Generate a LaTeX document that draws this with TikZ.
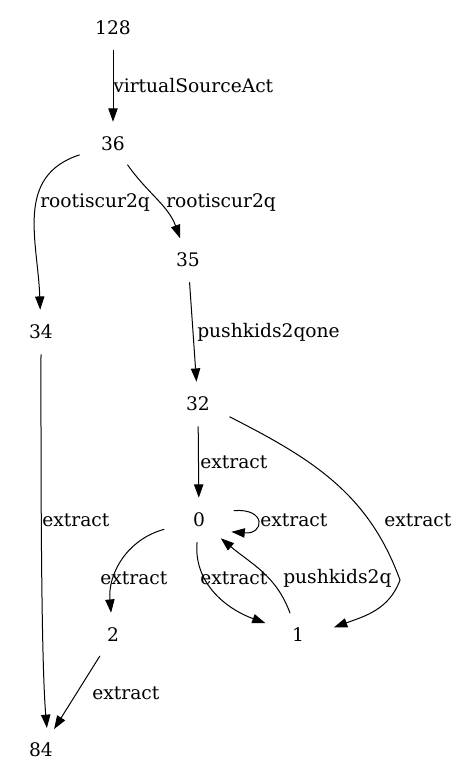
\documentclass[tikz,border=0pt]{standalone}
\usepackage{fontspec}
\setmainfont{DejaVu Serif}
\usetikzlibrary{arrows.meta}
\usetikzlibrary{shapes.geometric}

\begin{document}
\begin{tikzpicture}[x=0.75pt, y=-0.75pt,
    state/.style={ellipse, inner sep=0pt, minimum width=57pt, minimum height=33pt, font=\fontsize{14}{16}\selectfont},
    lbl/.style={anchor=west, inner sep=0pt, font=\fontsize{14}{16}\selectfont},
    edge/.style={-{Triangle[length=10pt, width=7pt]}, line width=0.75pt}]
      \useasboundingbox (0,0) rectangle (460,783);

      \node[state] (n128) at (113,28) {128};
      \node[state] (n36) at (113,144) {36};
      \node[state] (n35) at (188,260) {35};
      \node[state] (n34) at (41,332) {34};
      \node[state] (n32) at (198,404) {32};
      \node[state] (n0) at (199,520) {0};
      \node[state] (n2) at (113,635) {2};
      \node[state] (n1) at (298,635) {1};
      \node[state] (n84) at (41,750) {84};
      \coordinate (k32) at (400,580);

      \draw[edge] (n128) -- (n36);
      \draw[edge] (n36) to[out=198,in=92,looseness=1.1] (n34);
      \draw[edge] (n36) to[out=-55,in=110] (n35);
      \draw[edge] (n35) -- (n32);
      \draw[edge] (n34) to[out=-90,in=95,looseness=0.5] (n84.75);
      \draw[edge] (n32) -- (n0);
      \draw[edge] (n32.-22) to[out=-27,in=110] (k32) to[out=-110,in=20] (n1.12);
      \draw[edge] (n0.15) to[out=5,in=-5,looseness=4] (n0.-20);
      \draw[edge] (n0) to[out=195,in=95] (n2);
      \draw[edge] (n0) to[out=-95,in=160] (n1);
      \draw[edge] (n1) to[out=110,in=-40] (n0);
      \draw[edge] (n2) -- (n84);

      \node[lbl] (l128) at (113,86) {virtualSourceAct};
      \node[lbl] (l36a) at (40,203) {rootiscur2q};
      \node[lbl] (l36b) at (166,203) {rootiscur2q};
      \node[lbl] (l35) at (197,332) {pushkids2qone};
      \node[lbl] (l34) at (42,520) {extract};
      \node[lbl] (l32a) at (200,462) {extract};
      \node[lbl] (l32b) at (384,520) {extract};
      \node[lbl] (l0a) at (260,520) {extract};
      \node[lbl] (l0b) at (100,578) {extract};
      \node[lbl] (l0c) at (200,578) {extract};
      \node[lbl] (l1) at (283,578) {pushkids2q};
      \node[lbl] (l2) at (92,693) {extract};
    \end{tikzpicture}
\end{document}
